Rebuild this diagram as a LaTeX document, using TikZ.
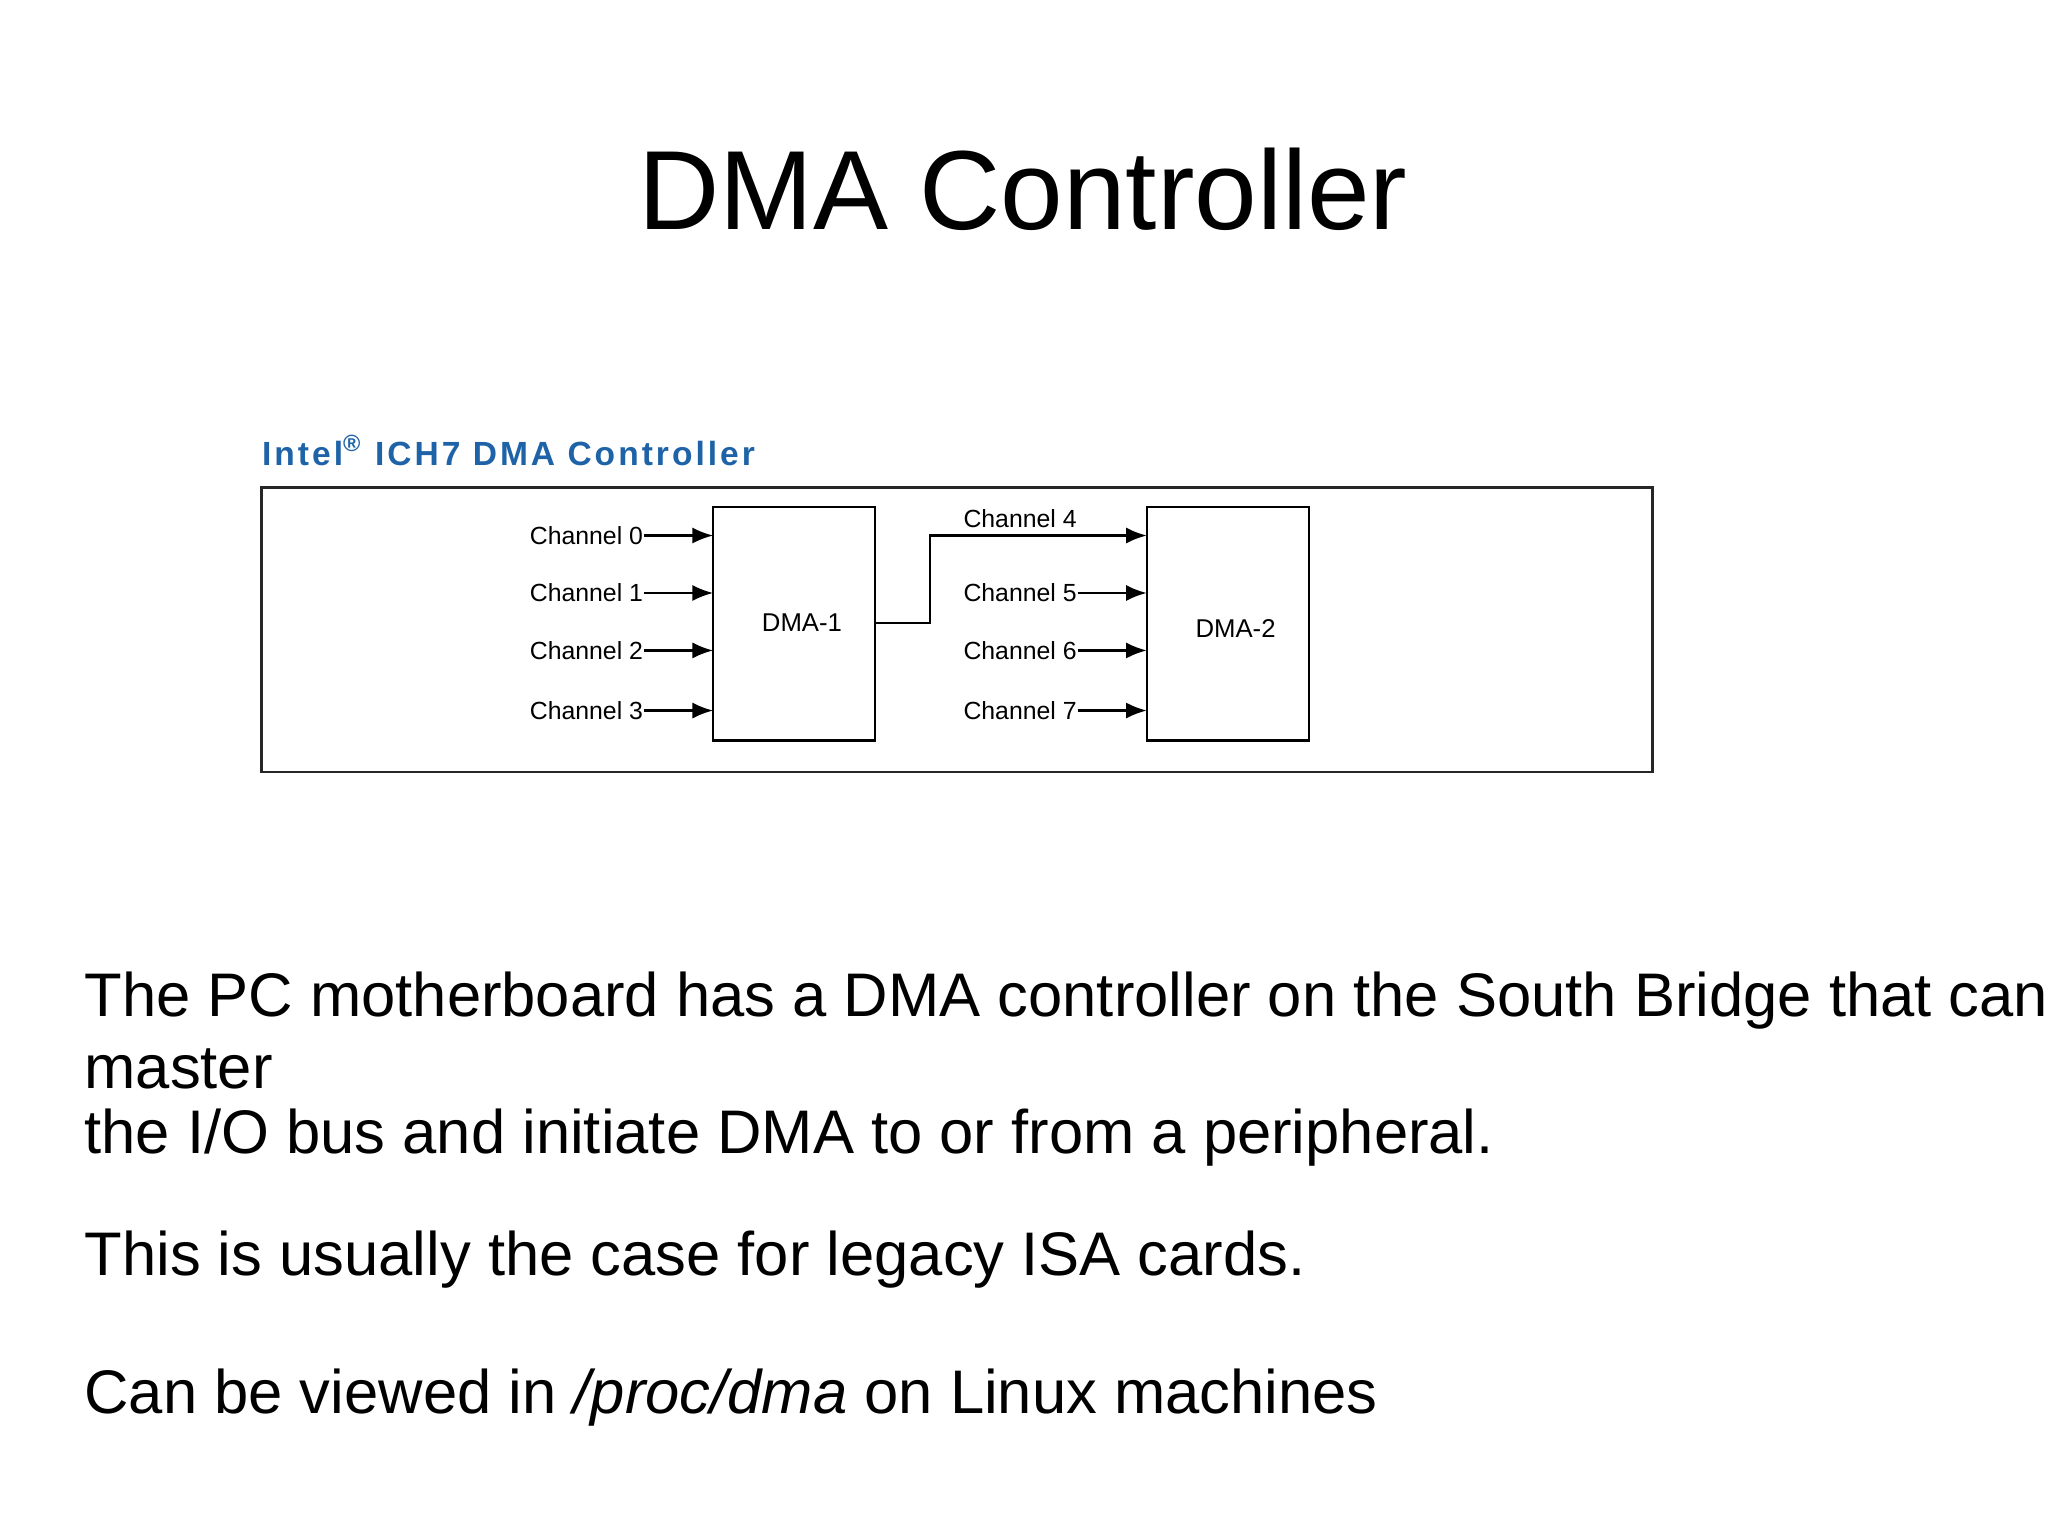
\documentclass[tikz,border=0pt]{standalone}
\usepackage{fontspec}
\setmainfont{Liberation Sans}
\usetikzlibrary{arrows.meta}
\definecolor{intelblue}{HTML}{1E63A8}
\begin{document}
\begin{tikzpicture}[x=0.01cm,y=-0.01cm,
  body/.style={anchor=west,inner sep=0,font=\fontsize{13.4}{16}\selectfont},
  ch/.style={anchor=west,inner sep=0,font=\fontsize{5.4}{6}\selectfont},
  arr/.style={-{Latex[length=4.5pt,width=3.5pt]},line width=0.5pt}]
\useasboundingbox (0,0) rectangle (1568,1175);
\node[inner sep=0,font=\fontsize{24.5}{28}\selectfont] (title) at (783,145) {DMA Controller};
\node[anchor=west,inner sep=0,text=intelblue,font=\fontsize{7.3}{9}\bfseries\addfontfeature{LetterSpace=9}\selectfont] (cap) at (200,345) {Intel\textsuperscript{\textregistered} ICH7 DMA Controller};
\draw[line width=0.6pt,black!85] (200,373) rectangle (1265,591);
\draw[line width=0.5pt] (546,388) rectangle (670,567);
\draw[line width=0.5pt] (878,388) rectangle (1002,567);
\node[inner sep=0,font=\fontsize{5.6}{7}\selectfont] (d1) at (614,477) {DMA-1};
\node[inner sep=0,font=\fontsize{5.6}{7}\selectfont] (d2) at (946,481) {DMA-2};
\coordinate (l0) at (546,410);\coordinate (l1) at (546,454);\coordinate (l2) at (546,498);\coordinate (l3) at (546,544);
\node[ch] (c0) at (405,410) {Channel 0};
\node[ch] (c1) at (405,454) {Channel 1};
\node[ch] (c2) at (405,498) {Channel 2};
\node[ch] (c3) at (405,544) {Channel 3};
\draw[arr] (c0.east) -- (l0);
\draw[arr] (c1.east) -- (l1);
\draw[arr] (c2.east) -- (l2);
\draw[arr] (c3.east) -- (l3);
\coordinate (o1) at (670,477);
\coordinate (r4) at (878,410);\coordinate (r5) at (878,454);\coordinate (r6) at (878,498);\coordinate (r7) at (878,544);
\node[ch] (c4) at (737,397) {Channel 4};
\node[ch] (c5) at (737,454) {Channel 5};
\node[ch] (c6) at (737,498) {Channel 6};
\node[ch] (c7) at (737,544) {Channel 7};
\draw[arr] (o1) -- (712,477) -- (712,410) -- (r4);
\draw[arr] (c5.east) -- (r5);
\draw[arr] (c6.east) -- (r6);
\draw[arr] (c7.east) -- (r7);
\node[body] (t1) at (64,766) {The PC motherboard has a DMA controller on the South Bridge that can};
\node[body] (t2) at (64,818) {master};
\node[body] (t3) at (64,871) {the I/O bus and initiate DMA to or from a peripheral.};
\node[body] (t4) at (64,964) {This is usually the case for legacy ISA cards.};
\node[body] (t5) at (64,1070) {Can be viewed in \textit{/proc/dma} on Linux machines};
\end{tikzpicture}
\end{document}
